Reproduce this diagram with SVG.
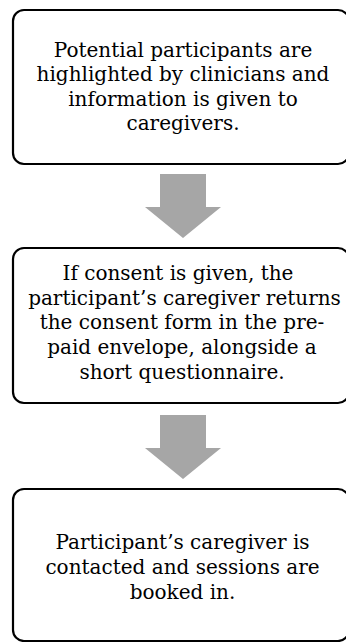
<svg xmlns="http://www.w3.org/2000/svg" width="346" height="642" viewBox="0 0 346 642">
  <style>
    .box { fill: #ffffff; stroke: #000000; stroke-width: 2.2; }
    .label { font-family: "DejaVu Serif", "Liberation Serif", serif; font-size: 20px; fill: #000000; text-anchor: middle; }
    .arrow { fill: #a6a6a6; stroke: none; }
  </style>
  <rect width="346" height="642" fill="#ffffff"/>

  <!-- step 1 -->
  <g id="step1">
    <rect class="box" x="13" y="10" width="336" height="154" rx="11" ry="11"/>
    <text class="label" x="183" y="57">Potential participants are</text>
    <text class="label" x="183" y="81">highlighted by clinicians and</text>
    <text class="label" x="183" y="105.5">information is given to</text>
    <text class="label" x="183" y="130">caregivers.</text>
  </g>

  <!-- step 2 -->
  <g id="step2">
    <rect class="box" x="13" y="248" width="336" height="155" rx="11" ry="11"/>
    <text class="label" x="178" y="280">If consent is given, the</text>
    <text class="label" x="184.5" y="304.5">participant’s caregiver returns</text>
    <text class="label" x="182" y="329">the consent form in the pre-</text>
    <text class="label" x="182" y="354">paid envelope, alongside a</text>
    <text class="label" x="182" y="379">short questionnaire.</text>
  </g>

  <!-- step 3 -->
  <g id="step3">
    <rect class="box" x="13" y="489" width="336" height="152" rx="11" ry="11"/>
    <text class="label" x="182.5" y="549">Participant’s caregiver is</text>
    <text class="label" x="182.5" y="574">contacted and sessions are</text>
    <text class="label" x="182.5" y="599">booked in.</text>
  </g>

  <!-- block arrows between steps -->
  <g id="connectors">
    <polygon class="arrow" points="160,174 206,174 206,207 221,207 183,238 145,207 160,207"/>
    <polygon class="arrow" points="160,415 206,415 206,448 221,448 183,479 145,448 160,448"/>
  </g>
</svg>
